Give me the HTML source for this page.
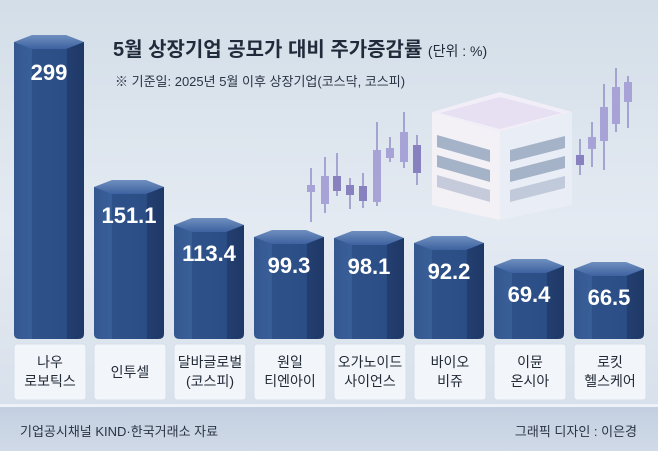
<!DOCTYPE html>
<html><head><meta charset="utf-8"><style>
html,body{margin:0;padding:0;width:658px;height:451px;overflow:hidden;font-family:"Liberation Sans","Noto Sans CJK KR",sans-serif}
</style></head><body>
<svg width="658" height="451" viewBox="0 0 658 451" xmlns="http://www.w3.org/2000/svg" font-family="Liberation Sans, Noto Sans CJK KR, sans-serif">
<defs>
<linearGradient id="bg" x1="0" y1="0" x2="0" y2="1">
<stop offset="0" stop-color="#d3dee8"/><stop offset="0.5" stop-color="#e4eaf2"/><stop offset="1" stop-color="#d5deea"/></linearGradient>
<linearGradient id="body" x1="0" y1="0" x2="1" y2="0">
<stop offset="0" stop-color="#34578f"/><stop offset="0.25" stop-color="#3a6099"/><stop offset="0.26" stop-color="#2f5189"/><stop offset="0.75" stop-color="#2c4e86"/><stop offset="0.76" stop-color="#233f70"/><stop offset="1" stop-color="#1e3866"/></linearGradient>
<linearGradient id="cap" x1="0" y1="0" x2="0" y2="1">
<stop offset="0" stop-color="#6f8fbf"/><stop offset="1" stop-color="#3d62a0"/></linearGradient>
<linearGradient id="foot" x1="0" y1="0" x2="0" y2="1">
<stop offset="0" stop-color="#c3cfe0"/><stop offset="1" stop-color="#d0dae8"/></linearGradient>
</defs>
<rect width="658" height="451" fill="url(#bg)"/>
<rect y="405" width="658" height="46" fill="url(#foot)"/>
<rect y="404" width="658" height="3" fill="#eef2f8"/>

<!-- candlesticks -->
<g stroke="#8d88c4" stroke-width="1.4">
<line x1="311" y1="168" x2="311" y2="222"/><line x1="325" y1="157" x2="325" y2="213"/><line x1="337" y1="153" x2="337" y2="196"/><line x1="350" y1="178" x2="350" y2="209"/><line x1="363" y1="173" x2="363" y2="208"/><line x1="377" y1="122" x2="377" y2="206"/><line x1="390" y1="137" x2="390" y2="162"/><line x1="404" y1="112" x2="404" y2="168"/><line x1="417" y1="135" x2="417" y2="185"/>
<line x1="580" y1="139" x2="580" y2="175"/><line x1="592" y1="122" x2="592" y2="167"/><line x1="604" y1="84" x2="604" y2="170"/><line x1="616" y1="68" x2="616" y2="132"/><line x1="628" y1="76" x2="628" y2="128"/>
</g>
<g fill="#a8a3d6">
<rect x="307" y="185" width="8" height="7"/><rect x="321" y="176" width="8" height="28"/><rect x="333" y="176" width="8" height="15" fill="#8781c0"/><rect x="346" y="185" width="8" height="10" fill="#8781c0"/><rect x="359" y="186" width="8" height="15" fill="#8781c0"/><rect x="373" y="150" width="8" height="52"/><rect x="386" y="148" width="8" height="10"/><rect x="400" y="132" width="8" height="30"/><rect x="413" y="145" width="8" height="28" fill="#8781c0"/>
<rect x="576" y="155" width="8" height="10" fill="#8781c0"/><rect x="588" y="137" width="8" height="12"/><rect x="600" y="107" width="8" height="34"/><rect x="612" y="87" width="8" height="37"/><rect x="624" y="82" width="8" height="20"/>
</g>

<!-- building -->
<polygon points="432,112 500,92 572,112 500,132" fill="#f1eef8"/>
<polygon points="440,113 500,97 562,113 500,129" fill="#e6e0f2"/>
<polygon points="432,112 500,132 500,220 432,205" fill="#f4f1f6"/>
<polygon points="500,132 572,112 572,205 500,220" fill="#e9edf5"/>
<g fill="#a5b3c8">
<polygon points="437,135 490,150 490,162 437,147"/><polygon points="437,155 490,170 490,182 437,167"/><polygon points="437,175 490,190 490,202 437,187" opacity="0.6"/>
<polygon points="510,150 565,136 565,148 510,162"/><polygon points="510,170 565,156 565,168 510,182"/><polygon points="510,190 565,176 565,188 510,202" opacity="0.6"/>
</g>

<!-- title -->
<text x="113" y="56" font-size="20" font-weight="bold" fill="#1f2a3a">5월 상장기업 공모가 대비 주가증감률 <tspan font-size="14" font-weight="normal">(단위 : %)</tspan></text>
<text x="115" y="86" font-size="13" fill="#2a3344">※ 기준일: 2025년 5월 이후 상장기업(코스닥, 코스피)</text>

<!-- bars -->
<g id="bars">
<path d="M14 42 V334 Q14 339 20 339 H78 Q84 339 84 334 V42 Z" fill="url(#body)"/>
<polygon points="14,42 32,35 66,35 84,42 66,49 32,49" fill="url(#cap)"/>
<path d="M94 187 V334 Q94 339 100 339 H158 Q164 339 164 334 V187 Z" fill="url(#body)"/>
<polygon points="94,187 112,180 146,180 164,187 146,194 112,194" fill="url(#cap)"/>
<path d="M174 225 V334 Q174 339 180 339 H238 Q244 339 244 334 V225 Z" fill="url(#body)"/>
<polygon points="174,225 192,218 226,218 244,225 226,232 192,232" fill="url(#cap)"/>
<path d="M254 237 V334 Q254 339 260 339 H318 Q324 339 324 334 V237 Z" fill="url(#body)"/>
<polygon points="254,237 272,230 306,230 324,237 306,244 272,244" fill="url(#cap)"/>
<path d="M334 238 V334 Q334 339 340 339 H398 Q404 339 404 334 V238 Z" fill="url(#body)"/>
<polygon points="334,238 352,231 386,231 404,238 386,245 352,245" fill="url(#cap)"/>
<path d="M414 243 V334 Q414 339 420 339 H478 Q484 339 484 334 V243 Z" fill="url(#body)"/>
<polygon points="414,243 432,236 466,236 484,243 466,250 432,250" fill="url(#cap)"/>
<path d="M494 266 V334 Q494 339 500 339 H558 Q564 339 564 334 V266 Z" fill="url(#body)"/>
<polygon points="494,266 512,259 546,259 564,266 546,273 512,273" fill="url(#cap)"/>
<path d="M574 269 V334 Q574 339 580 339 H638 Q644 339 644 334 V269 Z" fill="url(#body)"/>
<polygon points="574,269 592,262 626,262 644,269 626,276 592,276" fill="url(#cap)"/>
</g>
<g fill="#ffffff" font-size="22" font-weight="bold" text-anchor="middle">
<text x="49" y="80">299</text><text x="129" y="223">151.1</text><text x="209" y="261">113.4</text><text x="289" y="273">99.3</text>
<text x="369" y="274">98.1</text><text x="449" y="279">92.2</text><text x="529" y="302">69.4</text><text x="609" y="305">66.5</text>
</g>

<!-- label boxes -->
<g fill="#f2f5fa" stroke="#d6deea">
<rect x="14" y="344" width="72" height="56" rx="3"/><rect x="94" y="344" width="72" height="56" rx="3"/><rect x="174" y="344" width="72" height="56" rx="3"/><rect x="254" y="344" width="72" height="56" rx="3"/>
<rect x="334" y="344" width="72" height="56" rx="3"/><rect x="414" y="344" width="72" height="56" rx="3"/><rect x="494" y="344" width="72" height="56" rx="3"/><rect x="574" y="344" width="72" height="56" rx="3"/>
</g>
<g fill="#222a36" font-size="14" text-anchor="middle">
<text x="50" y="367">나우</text><text x="50" y="386">로보틱스</text>
<text x="130" y="377">인투셀</text>
<text x="210" y="367">달바글로벌</text><text x="210" y="386">(코스피)</text>
<text x="290" y="367">원일</text><text x="290" y="386">티엔아이</text>
<text x="370" y="367">오가노이드</text><text x="370" y="386">사이언스</text>
<text x="450" y="367">바이오</text><text x="450" y="386">비쥬</text>
<text x="530" y="367">이뮨</text><text x="530" y="386">온시아</text>
<text x="610" y="367">로킷</text><text x="610" y="386">헬스케어</text>
</g>
<text x="20" y="436" font-size="13" fill="#2a3344">기업공시채널 KIND·한국거래소 자료</text>
<text x="637" y="436" font-size="13" fill="#2a3344" text-anchor="end">그래픽 디자인 : 이은경</text>
</svg>
</body></html>
